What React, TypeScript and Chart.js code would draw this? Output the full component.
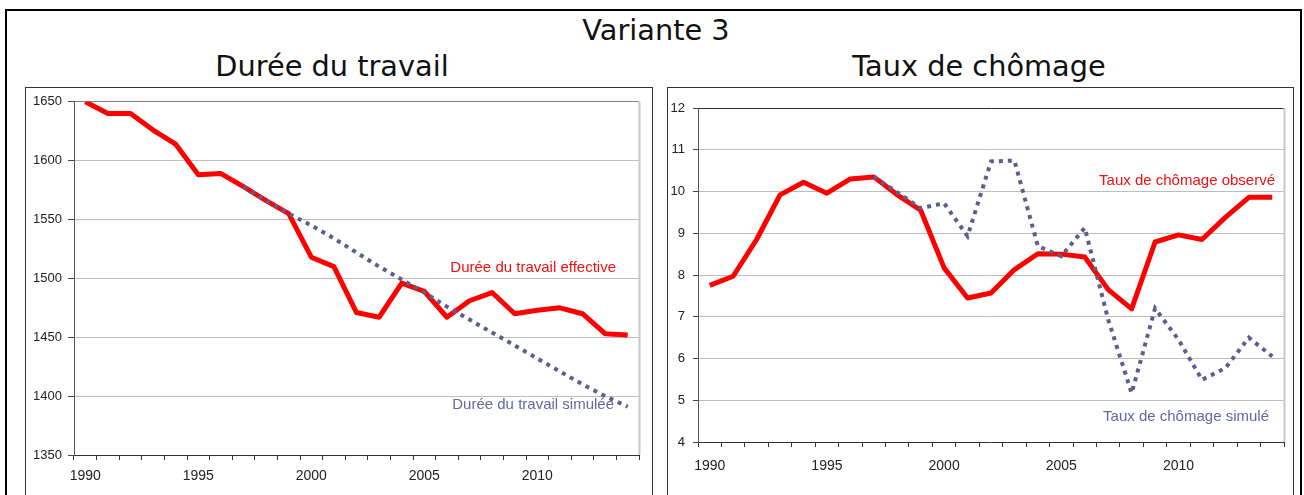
import React, { useEffect, useRef } from 'react';
import { Chart, registerables } from 'chart.js';

Chart.register(...registerables);

const years = ['1990','1991','1992','1993','1994','1995','1996','1997','1998','1999','2000','2001','2002','2003','2004','2005','2006','2007','2008','2009','2010','2011','2012','2013','2014'];

const dureeEffective = [1650, 1640, 1640, 1626, 1614, 1588, 1589, 1578, 1566, 1555, 1518, 1510, 1471, 1467, 1496, 1489, 1467, 1481, 1488, 1470, 1473, 1475, 1470, 1453, 1452];
const dureeSimulee = [null, null, null, null, null, null, null, 1578, 1566, 1555, 1545, 1534, 1522, 1510, 1499, 1488, 1476, 1465, 1454, 1443, 1432, 1421, 1410, 1400, 1391];

const chomageObserve = [7.75, 7.97, 8.85, 9.92, 10.22, 9.96, 10.30, 10.35, 9.92, 9.55, 8.17, 7.45, 7.57, 8.13, 8.51, 8.50, 8.43, 7.65, 7.19, 8.79, 8.96, 8.85, 9.38, 9.86, 9.86];
const chomageSimule = [null, null, null, null, null, null, null, 10.35, 9.98, 9.6, 9.72, 8.93, 10.72, 10.74, 8.69, 8.45, 9.13, 6.93, 5.17, 7.2, 6.45, 5.49, 5.77, 6.5, 6.05];

const mainTitle = 'Variante 3';
const leftTitle = 'Durée du travail';
const rightTitle = 'Taux de chômage';
const leftObsLabel = 'Durée du travail effective';
const leftSimLabel = 'Durée du travail simulée';
const rightObsLabel = 'Taux de chômage observé';
const rightSimLabel = 'Taux de chômage simulé';

const RED = '#ff0000';
const SLATE = '#5b5e8e';
const SLATE_TEXT = '#6467a0';
const AXIS_FONT = "'Liberation Sans', Arial, sans-serif";

type Cfg = {
  observed: (number | null)[];
  simulated: (number | null)[];
  yMin: number;
  yMax: number;
  step: number;
  yAxisWidth: number;
  xAxisHeight: number;
  padTop: number;
  padRight: number;
  yTickLen: number;
  yTickPad: number;
  xTickPad: number;
  topGridColor: string;
  yBorderColor: string;
  obsLabel: string;
  simLabel: string;
  obsLabelValue: number;
  simLabelValue: number;
  obsLabelRightOffset: number;
  simLabelRightOffset: number;
};

function LineChart({ cfg, style }: { cfg: Cfg; style: React.CSSProperties }) {
  const ref = useRef<HTMLCanvasElement>(null);
  useEffect(() => {
    const canvas = ref.current;
    if (!canvas) return;
    const annot = {
      id: 'annot',
      beforeDatasetsDraw(chart: any) {
        const { ctx, chartArea } = chart;
        ctx.save();
        ctx.strokeStyle = '#c8c8c8';
        ctx.lineWidth = 2;
        ctx.beginPath();
        ctx.moveTo(chartArea.right + 0.5, chartArea.top);
        ctx.lineTo(chartArea.right + 0.5, chartArea.bottom);
        ctx.stroke();
        ctx.restore();
      },
      afterDatasetsDraw(chart: any) {
        const { ctx, chartArea, scales } = chart;
        ctx.save();
        ctx.font = `15px ${AXIS_FONT}`;
        ctx.textAlign = 'right';
        ctx.textBaseline = 'middle';
        ctx.fillStyle = '#f01010';
        ctx.fillText(cfg.obsLabel, chartArea.right - cfg.obsLabelRightOffset, scales.y.getPixelForValue(cfg.obsLabelValue));
        ctx.fillStyle = SLATE_TEXT;
        ctx.fillText(cfg.simLabel, chartArea.right - cfg.simLabelRightOffset, scales.y.getPixelForValue(cfg.simLabelValue));
        ctx.restore();
      },
    };
    const chart = new Chart(canvas, {
      type: 'line',
      data: {
        labels: years,
        datasets: [
          {
            label: cfg.simLabel,
            data: cfg.simulated,
            borderColor: SLATE,
            borderWidth: 4,
            borderDash: [4, 5],
            borderCapStyle: 'butt',
            pointRadius: 0,
            tension: 0,
            spanGaps: false,
            fill: false,
          },
          {
            label: cfg.obsLabel,
            data: cfg.observed,
            borderColor: RED,
            borderWidth: 5,
            borderJoinStyle: 'round',
            pointRadius: 0,
            tension: 0,
            fill: false,
          },
        ],
      },
      options: {
        animation: false,
        responsive: false,
        maintainAspectRatio: false,
        layout: { padding: { top: cfg.padTop, right: cfg.padRight, left: 0, bottom: 0 } },
        plugins: { legend: { display: false }, tooltip: { enabled: false }, title: { display: false } },
        scales: {
          x: {
            type: 'category',
            offset: true,
            grid: {
              offset: true,
              drawOnChartArea: false,
              drawTicks: true,
              tickLength: 5,
              tickColor: '#333',
            },
            border: { display: true, color: '#333', width: 1 },
            ticks: {
              autoSkip: false,
              maxRotation: 0,
              minRotation: 0,
              padding: cfg.xTickPad,
              color: '#222',
              font: { family: AXIS_FONT, size: 14 },
              callback: (_v: any, i: number) => (Number(years[i]) % 5 === 0 ? years[i] : ''),
            },
            afterFit: (s: any) => {
              s.height = cfg.xAxisHeight;
            },
          },
          y: {
            min: cfg.yMin,
            max: cfg.yMax,
            grid: {
              color: (c: any) => (c.tick && c.tick.value === cfg.yMax ? cfg.topGridColor : '#bdbdbd'),
              lineWidth: 1,
              tickLength: cfg.yTickLen,
              tickColor: '#444',
            },
            border: { display: true, color: cfg.yBorderColor, width: 1 },
            ticks: {
              stepSize: cfg.step,
              padding: cfg.yTickPad,
              color: '#222',
              font: { family: AXIS_FONT, size: 13 },
              callback: (v: any) => String(v),
            },
            afterFit: (s: any) => {
              s.width = cfg.yAxisWidth;
            },
          },
        },
      },
      plugins: [annot],
    } as any);
    return () => chart.destroy();
  }, []);
  const w = style.width as number;
  const h = style.height as number;
  return <canvas ref={ref} width={w} height={h} style={{ position: 'absolute', ...style }} />;
}

const leftCfg: Cfg = {
  observed: dureeEffective,
  simulated: dureeSimulee,
  yMin: 1350,
  yMax: 1650,
  step: 50,
  yAxisWidth: 48,
  xAxisHeight: 40,
  padTop: 12,
  padRight: 13,
  yTickLen: 6,
  yTickPad: 6,
  xTickPad: 8,
  topGridColor: '#808080',
  yBorderColor: '#555',
  obsLabel: leftObsLabel,
  simLabel: leftSimLabel,
  obsLabelValue: 1509,
  simLabelValue: 1393,
  obsLabelRightOffset: 23,
  simLabelRightOffset: 25,
};

const rightCfg: Cfg = {
  observed: chomageObserve,
  simulated: chomageSimule,
  yMin: 4,
  yMax: 12,
  step: 1,
  yAxisWidth: 30,
  xAxisHeight: 53,
  padTop: 20,
  padRight: 9,
  yTickLen: 5,
  yTickPad: 8,
  xTickPad: 11,
  topGridColor: '#333',
  yBorderColor: '#555',
  obsLabel: rightObsLabel,
  simLabel: rightSimLabel,
  obsLabelValue: 10.26,
  simLabelValue: 4.61,
  obsLabelRightOffset: 9,
  simLabelRightOffset: 15,
};

const titleFont = "'DejaVu Sans', Verdana, sans-serif";

function Title({ text, center, top }: { text: string; center: number; top: number }) {
  return (
    <div
      style={{
        position: 'absolute',
        left: center - 300,
        width: 600,
        top,
        textAlign: 'center',
        fontFamily: titleFont,
        fontSize: 28.8,
        lineHeight: '28.8px',
        color: '#111',
        whiteSpace: 'nowrap',
      }}
    >
      {text}
    </div>
  );
}

export default function App() {
  return (
    <div
      style={{
        position: 'fixed',
        left: 0,
        top: 0,
        width: 1304,
        height: 495,
        overflow: 'hidden',
        background: '#fff',
      }}
    >
      <div
        style={{
          position: 'absolute',
          left: 5,
          top: 9,
          width: 1297,
          height: 520,
          border: '2px solid #000',
          boxSizing: 'border-box',
        }}
      />
      <Title text={mainTitle} center={656} top={16} />
      <Title text={leftTitle} center={332} top={52} />
      <Title text={rightTitle} center={979} top={52} />
      <div
        style={{
          position: 'absolute',
          left: 25,
          top: 87,
          width: 628,
          height: 420,
          border: '1px solid #333',
          boxSizing: 'border-box',
        }}
      />
      <div
        style={{
          position: 'absolute',
          left: 667,
          top: 87,
          width: 627,
          height: 420,
          border: '1px solid #333',
          boxSizing: 'border-box',
        }}
      />
      <LineChart cfg={leftCfg} style={{ left: 26, top: 88, width: 626, height: 407 }} />
      <LineChart cfg={rightCfg} style={{ left: 668, top: 88, width: 625, height: 407 }} />
    </div>
  );
}
